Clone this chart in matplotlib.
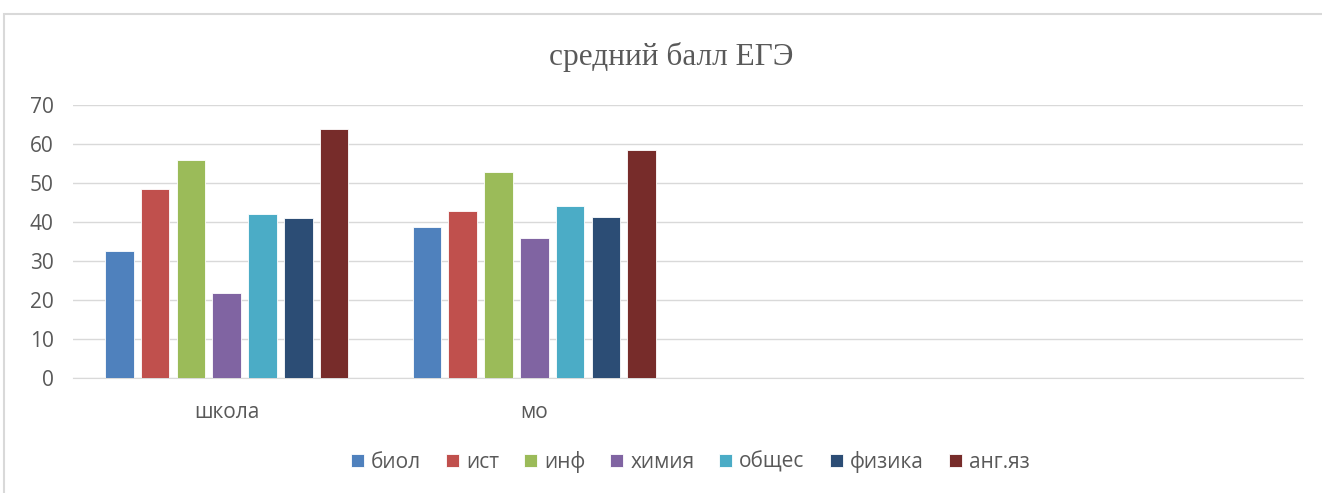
import matplotlib
matplotlib.use("Agg")
import matplotlib.pyplot as plt
import matplotlib.patches as mpatches
import numpy as np

categories = ["школа", "мо", "", ""]
series_names = ["биол", "ист", "инф", "химия", "общес", "физика", "анг.яз"]
values = {
    "биол":   [32.6, 38.8, np.nan, np.nan],
    "ист":    [48.5, 42.8, np.nan, np.nan],
    "инф":    [55.9, 52.9, np.nan, np.nan],
    "химия":  [21.8, 35.9, np.nan, np.nan],
    "общес":  [42.1, 44.1, np.nan, np.nan],
    "физика": [41.1, 41.2, np.nan, np.nan],
    "анг.яз": [63.8, 58.5, np.nan, np.nan],
}
colors = ["#4f81bd", "#c0504d", "#9bbb59", "#8064a2", "#4bacc6", "#2c4d75", "#772c2a"]

fig = plt.figure(figsize=(13.22, 4.93), dpi=100)
fig.patch.set_facecolor("white")
# outer frame
fig.patches.append(mpatches.Rectangle((4/1322, -0.01), 1.02, 1 - 14/493 + 0.01,
                                      transform=fig.transFigure, fill=False,
                                      edgecolor="#d9d9d9", linewidth=1.5))

ax = fig.add_axes([73/1322, 1 - 378/493, (1303 - 73)/1322, (378 - 105)/493])
x = np.arange(len(categories))
n = len(series_names)
group_w = 0.815
slot = group_w / n
bw = slot * 0.8
for i, name in enumerate(series_names):
    ax.bar(x - group_w/2 + slot*(i + 0.5), values[name], width=bw, color=colors[i],
           edgecolor="white", linewidth=0.6, label=name, zorder=3)

ax.set_xlim(-0.5, len(categories) - 0.5)
ax.set_ylim(0, 70)
ax.set_yticks(range(0, 71, 10))
ax.set_xticks(x)
ax.set_xticklabels(categories)
ax.grid(axis="y", color="#d9d9d9", linewidth=1, zorder=0)
for s in ["top", "right", "left"]:
    ax.spines[s].set_visible(False)
ax.spines["bottom"].set_color("#d9d9d9")
ax.tick_params(axis="both", length=0, labelsize=15, labelcolor="#595959")
ax.tick_params(axis="y", pad=14)
ax.tick_params(axis="x", pad=17)
for lab in ax.get_xticklabels() + ax.get_yticklabels():
    lab.set_family("Open Sans")

fig.text(671/1322, 1 - 57/493, "средний балл ЕГЭ", ha="center", va="center",
         family="Liberation Serif", fontsize=22.5, color="#595959")

leg = fig.legend(loc="center", bbox_to_anchor=(690/1322, 1 - 462/493), ncol=7,
                 frameon=False, handlelength=0.63, handleheight=0.63, handletextpad=0.33,
                 columnspacing=1.2, prop={"family": "Open Sans", "size": 15})
for t in leg.get_texts():
    t.set_color("#595959")

fig.savefig("out.png", dpi=100)
